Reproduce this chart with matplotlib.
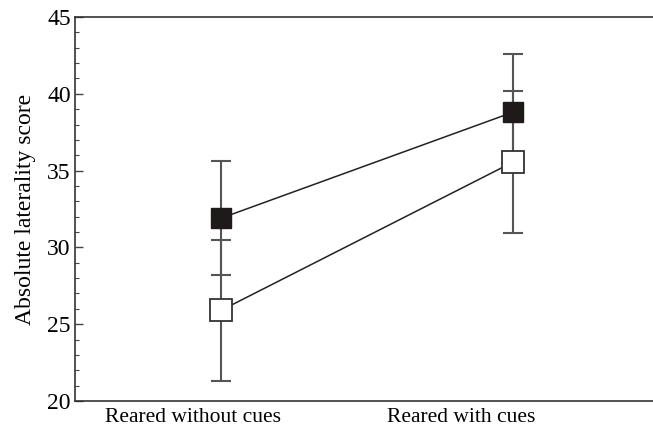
import numpy as np
import matplotlib.pyplot as plt
from matplotlib.ticker import MultipleLocator

groups = ['Reared without cues', 'Reared with cues']
x_pos = [1, 2]
label_pos = [0.904, 1.822]
filled_mean = [31.9, 38.8]
filled_err = [3.7, 3.8]
open_mean = [25.9, 35.55]
open_err = [4.6, 4.6]

plt.rcParams['font.family'] = ['Liberation Serif', 'DejaVu Serif']

fig = plt.figure(figsize=(6.53, 4.30), dpi=100)
ax = fig.add_axes([0.1149, 0.0674, 0.8851, 0.8931])

# caps about 20 px wide, same as the squares
ebar = dict(fmt='none', ecolor='#555555', elinewidth=1.5, capsize=7.4, capthick=1.5)
ax.errorbar(x_pos, filled_mean, yerr=filled_err, zorder=1, **ebar)
ax.errorbar(x_pos, open_mean, yerr=open_err, zorder=1, **ebar)

ax.plot(x_pos, filled_mean, color='#222222', lw=1.1, zorder=2)
ax.plot(x_pos, open_mean, color='#222222', lw=1.1, zorder=2)

ax.plot(x_pos, filled_mean, ls='none', marker='s', ms=15, mfc='#1e1a1a',
        mec='#1e1a1a', zorder=3)
ax.plot(x_pos, open_mean, ls='none', marker='s', ms=15.5, mfc='white',
        mec='#333333', mew=1.3, zorder=4)

ax.set_xlim(0.5, 2.48)
ax.set_ylim(20, 45)
ax.yaxis.set_major_locator(MultipleLocator(5))
ax.yaxis.set_minor_locator(MultipleLocator(1))
ax.tick_params(axis='y', which='major', direction='in', length=6, width=1,
               color='#444444', labelsize=17, pad=3)
ax.tick_params(axis='y', which='minor', direction='in', length=3, width=0.8,
               color='#444444')
ax.set_xticks(label_pos)
ax.set_xticklabels(groups)
ax.tick_params(axis='x', length=0, labelsize=15.5, pad=5)

ax.spines['right'].set_visible(False)
for s in ['left', 'bottom', 'top']:
    ax.spines[s].set_color('#333333')
    ax.spines[s].set_linewidth(1.2)

ax.set_ylabel('Absolute laterality score', fontsize=17, labelpad=8)

fig.savefig('out.png', dpi=100)
